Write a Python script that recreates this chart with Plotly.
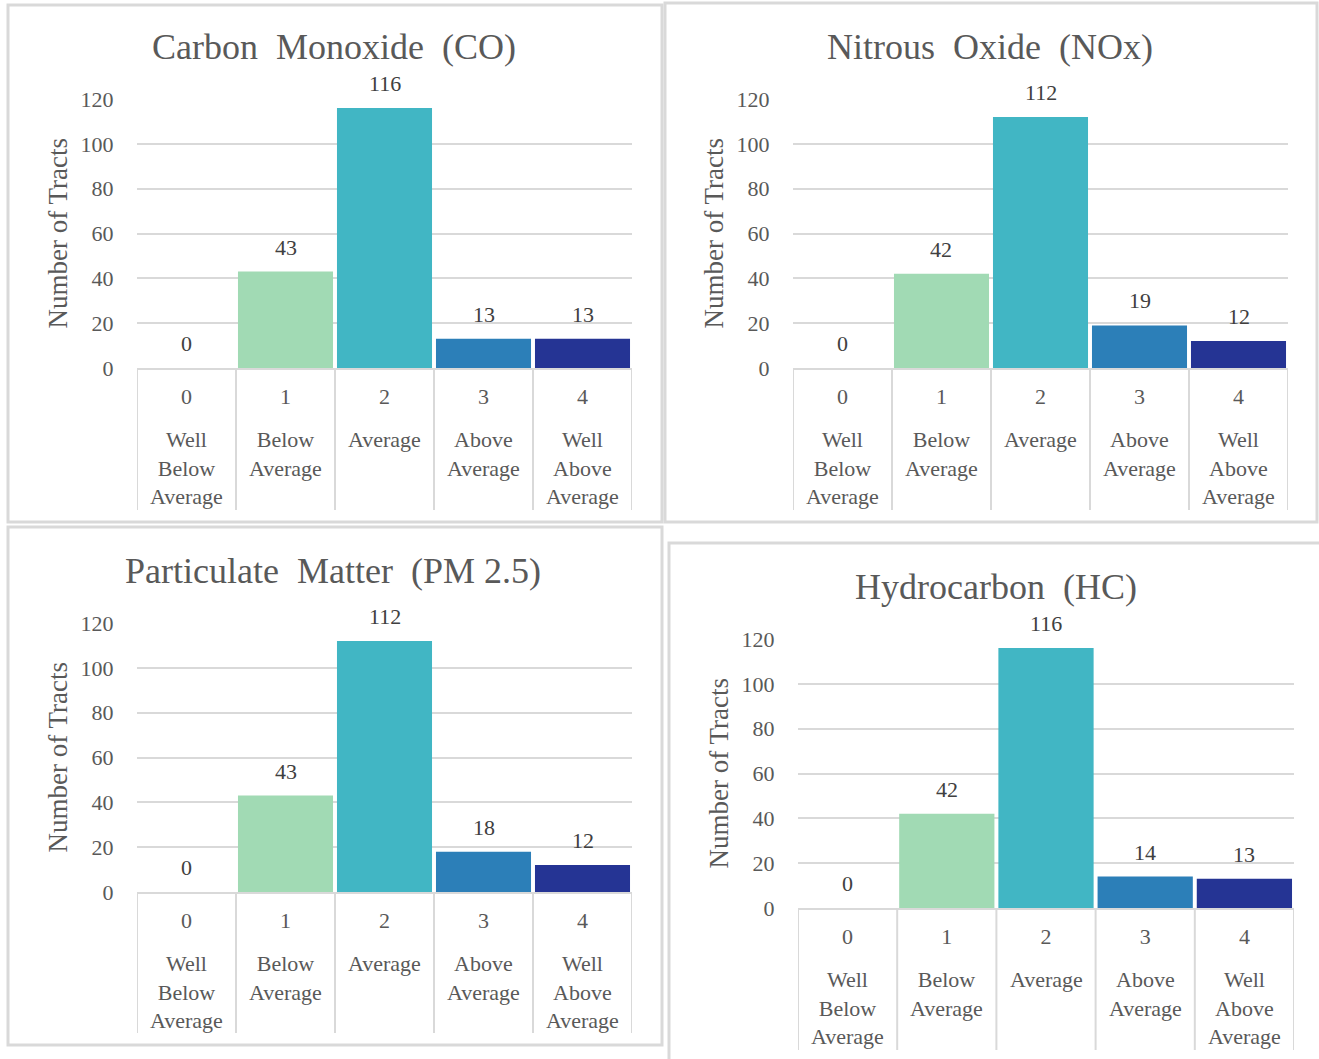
import plotly.graph_objects as go

W, H = 1319, 1059

categories = [0, 1, 2, 3, 4]
codes = ["0", "1", "2", "3", "4"]
cat_labels = ["Well<br>Below<br>Average", "Below<br>Average", "Average",
              "Above<br>Average", "Well<br>Above<br>Average"]
bar_colors = ["#ffffcc", "#a1dab4", "#41b6c4", "#2c7fb8", "#253494"]

titles = ["Carbon\u00a0\u00a0Monoxide\u00a0\u00a0(CO)", "Nitrous\u00a0\u00a0Oxide\u00a0\u00a0(NOx)",
          "Particulate\u00a0\u00a0Matter\u00a0\u00a0(PM\u00a02.5)", "Hydrocarbon\u00a0\u00a0(HC)"]
co_values = [0, 43, 116, 13, 13]
nox_values = [0, 42, 112, 19, 12]
pm_values = [0, 43, 112, 18, 12]
hc_values = [0, 42, 116, 14, 13]
series = [co_values, nox_values, pm_values, hc_values]

y_ticks = [0, 20, 40, 60, 80, 100, 120]
y_title = "Number of Tracts"

FONT = "Liberation Serif, Times New Roman, serif"
TXT = "#595959"
GRID = "#d9d9d9"

# panel layout in pixels
panels = [
    dict(box=(8, 5, 662, 522), px=(137, 632), py=(99, 368), title=(334, 47), yt=57, tb=510),
    dict(box=(665, 3, 1317, 522), px=(793, 1288), py=(99, 368), title=(990, 47), yt=713, tb=510),
    dict(box=(8, 527, 662, 1045), px=(137, 632), py=(623, 892), title=(333, 571), yt=57, tb=1033),
    dict(box=(669, 543, 1323, 1064), px=(798, 1294), py=(639, 908), title=(996, 587), yt=718, tb=1050),
]

def fx(p):
    return p / W

def fy(p):
    return 1 - p / H

fig = go.Figure()
shapes = []
annotations = []

for i, (p, vals, ttl) in enumerate(zip(panels, series, titles)):
    n = "" if i == 0 else str(i + 1)
    xa, ya = "x" + n, "y" + n
    fig.add_trace(go.Bar(
        x=categories, y=vals, marker=dict(color=bar_colors, line=dict(width=0)),
        xaxis=xa, yaxis=ya, showlegend=False, hoverinfo="x+y",
    ))
    fig.update_layout(**{
        "xaxis" + n: dict(
            domain=[fx(p["px"][0]), fx(p["px"][1])], anchor=ya, automargin=False,
            range=[-0.5, 4.5], tickvals=categories, ticktext=codes,
            showline=True, linecolor=GRID, linewidth=2, showgrid=False, zeroline=False,
            ticks="outside", ticklen=8, tickcolor="rgba(0,0,0,0)",
            tickfont=dict(family=FONT, size=22, color=TXT), fixedrange=True,
        ),
        "yaxis" + n: dict(
            domain=[fy(p["py"][1]), fy(p["py"][0])], anchor=xa, automargin=False,
            range=[0, 120], tickvals=y_ticks, showgrid=True, gridcolor=GRID, gridwidth=2,
            zeroline=False, showline=False,
            ticks="outside", ticklen=18, tickcolor="rgba(0,0,0,0)",
            tickfont=dict(family=FONT, size=22, color=TXT), fixedrange=True,
        ),
    })
    # panel border
    x0, y0, x1, y1 = p["box"]
    shapes.append(dict(type="rect", xref="paper", yref="paper",
                       x0=fx(x0), x1=fx(x1), y0=fy(y1), y1=fy(y0),
                       line=dict(color=GRID, width=3), layer="below"))
    # category table separators
    for k in range(len(categories) + 1):
        shapes.append(dict(type="line", xref=xa, yref="paper",
                           x0=k - 0.5, x1=k - 0.5, y0=fy(p["py"][1]), y1=fy(p["tb"]),
                           line=dict(color=GRID, width=2)))
    # category labels
    for c, lab in zip(categories, cat_labels):
        annotations.append(dict(xref=xa, yref="paper", x=c, y=fy(p["py"][1] + 57),
                                yanchor="top", xanchor="center", showarrow=False, text=lab,
                                font=dict(family=FONT, size=22, color=TXT)))
    # data labels
    for c, v in zip(categories, vals):
        annotations.append(dict(xref=xa, yref=ya, x=c, y=v, yanchor="bottom",
                                showarrow=False, yshift=10, text=str(v),
                                font=dict(family=FONT, size=22, color="#404040")))
    # title
    annotations.append(dict(xref="paper", yref="paper", x=fx(p["title"][0]), y=fy(p["title"][1]),
                            xanchor="center", yanchor="middle", showarrow=False, text=ttl,
                            font=dict(family=FONT, size=36, color=TXT)))
    # y axis title
    annotations.append(dict(xref="paper", yref="paper", x=fx(p["yt"]),
                            y=fy((p["py"][0] + p["py"][1]) / 2),
                            xanchor="center", yanchor="middle", showarrow=False, text=y_title,
                            textangle=-90, font=dict(family=FONT, size=27, color=TXT)))

fig.update_layout(
    width=W, height=H, margin=dict(l=0, r=0, t=0, b=0, pad=0, autoexpand=False),
    paper_bgcolor="white", plot_bgcolor="white",
    bargap=0.04, shapes=shapes, annotations=annotations,
)

post = ("document.documentElement.style.margin='0';document.documentElement.style.overflow='hidden';"
        "document.body.style.margin='0';document.body.style.padding='0';document.body.style.overflow='hidden';"
        "var d=document.getElementById('{plot_id}');"
        "d.style.position='fixed';d.style.left='0px';d.style.top='0px';")
fig.write_html("out.html", post_script=post, config={"displayModeBar": False})
